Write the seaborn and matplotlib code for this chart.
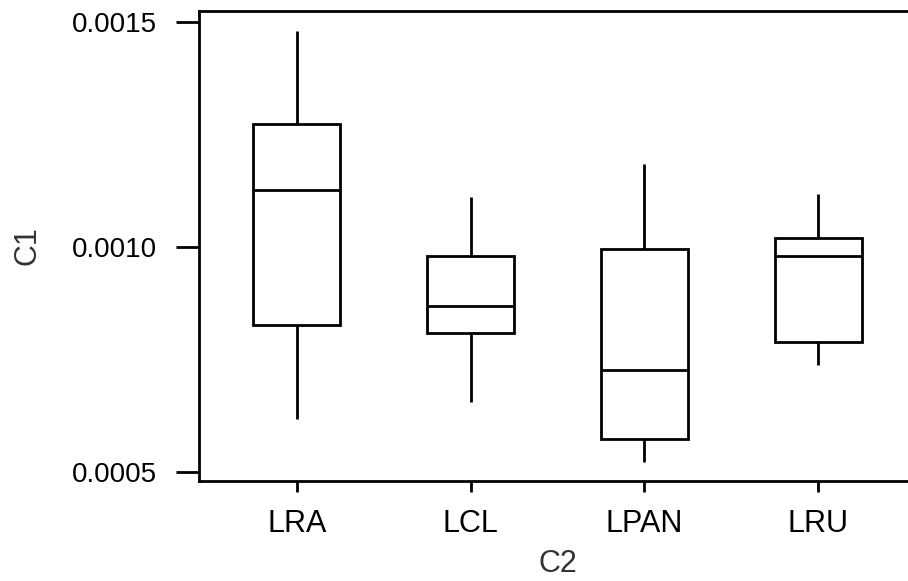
import matplotlib
matplotlib.use("Agg")
import matplotlib.pyplot as plt
import seaborn as sns
import pandas as pd

# five-number summaries (min, Q1, median, Q3, max)
categories = ["LRA", "LCL", "LPAN", "LRU"]
lra = [0.000618, 0.000827, 0.001127, 0.001273, 0.001480]
lcl = [0.000655, 0.000809, 0.000869, 0.000980, 0.001111]
lpan = [0.000522, 0.000573, 0.000727, 0.000996, 0.001184]
lru = [0.000738, 0.000789, 0.000980, 0.001020, 0.001118]
y_ticks = [0.0005, 0.0010, 0.0015]
y_tick_labels = ["0.0005", "0.0010", "0.0015"]

df = pd.DataFrame({
    "C2": [c for c, vals in zip(categories, [lra, lcl, lpan, lru]) for _ in vals],
    "C1": lra + lcl + lpan + lru,
})

sns.set_style("ticks")
plt.rcParams["font.family"] = ["Liberation Sans", "DejaVu Sans"]

fig = plt.figure(figsize=(9.08, 5.81), dpi=100)
ax = fig.add_axes([0.2192, 0.1721, 0.7896, 0.8090])

lw = 2.0
sns.boxplot(data=df, x="C2", y="C1", order=categories, ax=ax,
            color="white", linecolor="black", linewidth=lw, width=0.5,
            whis=(0, 100), showcaps=False, showfliers=False,
            medianprops={"color": "black", "linewidth": lw})

ax.set_xlim(-0.5625, 3.5625)
ax.set_ylim(0.00048, 0.0015244)
ax.set_yticks(y_ticks)
ax.set_yticklabels(y_tick_labels)

for side in ["top", "left", "bottom"]:
    ax.spines[side].set_linewidth(lw)
    ax.spines[side].set_color("black")
ax.spines["right"].set_visible(False)

ax.tick_params(axis="y", length=16.5, width=lw, pad=14, labelsize=20, colors="black")
ax.tick_params(axis="x", length=8, width=lw, pad=12, labelsize=22, colors="black")

ax.set_xlabel("C2", fontsize=22, labelpad=7, color="#333333")
ax.set_ylabel("C1", fontsize=22, labelpad=21, color="#333333")

plt.savefig("out.png", dpi=100)
plt.close()
